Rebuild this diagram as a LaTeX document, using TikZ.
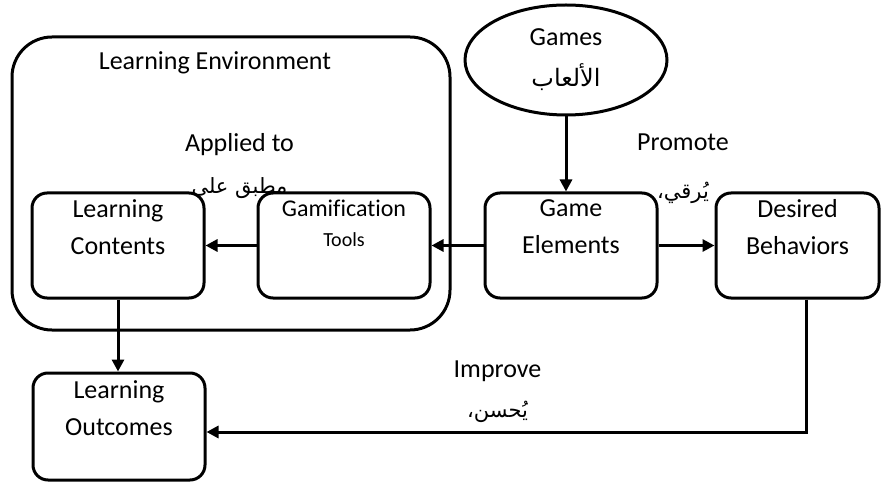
\documentclass[tikz,border=0pt]{standalone}
\usepackage{fontspec}
\setmainfont{Carlito}[Ligatures=NoCommon]
\newfontfamily\arabicfont[Script=Arabic]{DejaVu Sans}
\TeXXeTstate=1
\usetikzlibrary{arrows.meta,shapes.geometric}

\begin{document}
\begin{tikzpicture}[
  x=0.5pt, y=-0.5pt,
  box/.style={draw, line width=1.5pt, rounded corners=7.5pt, align=center, minimum width=86pt, minimum height=52.5pt, inner sep=0pt, font=\fontsize{13}{18.5}\selectfont},
  area/.style={draw, line width=1.5pt, rounded corners=20pt, minimum width=219pt, minimum height=146.5pt, inner sep=0pt},
  game/.style={draw, ellipse, line width=1.5pt, minimum width=101pt, minimum height=55pt, inner sep=0pt, align=center, font=\fontsize{13}{20.5}\selectfont},
  tag/.style={align=center, inner sep=0pt, font=\fontsize{13}{21}\selectfont},
  arrow/.style={-{Triangle[length=6pt, width=6pt]}, line width=1.5pt}
]
\useasboundingbox (0,0) rectangle (882,486);
\node[area] (env) at (231,183.5) {};
\node[tag] (envlabel) at (215,63) {Learning Environment};
\node[game] (games) at (566,60) {Games\\{\fontsize{12}{20.5}\arabicfont\beginR الألعاب\endR}};
\node[box] (contents) at (118,245.5) {Learning\\Contents\\~};
\node[box, font=\fontsize{12}{15}\selectfont] (tools) at (344,245.5) {Gamification\\{\fontsize{10}{15}\selectfont Tools}\\[7.5pt]~};
\node[box] (elements) at (571,245.5) {Game\\Elements\\~};
\node[box, minimum width=81.5pt] (desired) at (797.5,245.5) {Desired\\Behaviors\\~};
\node[box, minimum height=53.5pt] (outcomes) at (119,426.5) {Learning\\Outcomes\\~};
% relation labels
\node[tag] (applied) at (239.5,166.5) {Applied to\\{\fontsize{10.5}{21}\arabicfont\beginR مطبق على\endR}};
\node[tag] (promote) at (683,168.5) {Promote\\[3pt]{\fontsize{10.5}{21}\arabicfont\beginR يُرقي،\endR}};
\node[tag] (improve) at (497.5,392) {Improve\\[-1pt]{\fontsize{10.5}{21}\arabicfont\beginR يُحسن،\endR}};
\draw[arrow] (games.south) -- (games.south |- elements.north);
\draw[arrow] (elements) -- (tools);
\draw[arrow] (tools) -- (contents);
\draw[arrow] (elements) -- (desired);
\draw[arrow] (contents.south) -- (contents.south |- outcomes.north);
\draw[arrow] ([xshift=4.25pt]desired.south) |- ([yshift=-2.75pt]outcomes.east);
\end{tikzpicture}
\end{document}
